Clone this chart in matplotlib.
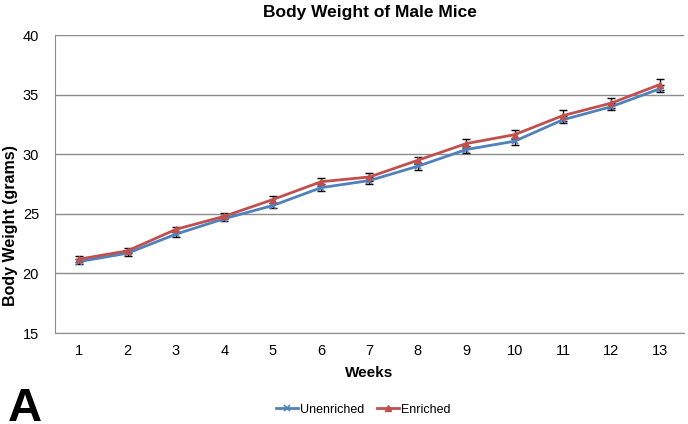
import matplotlib.pyplot as plt

plt.rcParams["font.family"] = ["Liberation Sans", "DejaVu Sans"]

weeks = ["1", "2", "3", "4", "5", "6", "7", "8", "9", "10", "11", "12", "13"]
unenriched = [21.0, 21.7, 23.3, 24.6, 25.7, 27.2, 27.8, 29.0, 30.4, 31.1, 32.9, 34.0, 35.5]
unenriched_err = [0.2, 0.2, 0.2, 0.2, 0.2, 0.3, 0.3, 0.3, 0.3, 0.3, 0.3, 0.3, 0.3]
enriched = [21.2, 21.9, 23.7, 24.8, 26.2, 27.7, 28.1, 29.5, 30.9, 31.65, 33.25, 34.3, 35.85]
enriched_err = [0.25, 0.2, 0.2, 0.25, 0.3, 0.35, 0.35, 0.3, 0.35, 0.4, 0.45, 0.45, 0.45]

fig = plt.figure(figsize=(6.88, 4.24), dpi=100)
ax = fig.add_axes([0.080, 0.2146, 0.914, 0.7024])

x = list(range(len(weeks)))
# error bars first, lines on top
ax.errorbar(x, unenriched, yerr=unenriched_err, fmt="none", ecolor="black",
            elinewidth=1, capsize=3, capthick=1, zorder=3)
ax.errorbar(x, enriched, yerr=enriched_err, fmt="none", ecolor="black",
            elinewidth=1, capsize=3, capthick=1, zorder=3)
ax.plot(x, unenriched, color="#4F81BD", lw=2, marker="x", ms=5, mew=1.2,
        label="Unenriched", zorder=4)
ax.plot(x, enriched, color="#C0504D", lw=2, marker="^", ms=4,
        label="Enriched", zorder=5)

ax.set_xlim(-0.5, len(weeks) - 0.5)
ax.set_ylim(15, 40)
ax.set_xticks(x)
ax.set_xticklabels(weeks)
ax.set_yticks([15, 20, 25, 30, 35, 40])
ax.tick_params(axis="both", length=0, labelsize=10.5, pad=8)
ax.tick_params(axis="y", pad=11.5)

ax.yaxis.grid(True, color="#8c8c8c", lw=1)
ax.set_axisbelow(True)
for s in ["top", "right"]:
    ax.spines[s].set_visible(False)
ax.spines["left"].set_color("#8c8c8c")
ax.spines["bottom"].set_color("#8c8c8c")

ax.set_title("Body Weight of Male Mice", fontsize=12.5, fontweight="bold", pad=13)
ax.set_xlabel("Weeks", fontsize=11, fontweight="bold", labelpad=6)
ax.set_ylabel("Body Weight (grams)", fontsize=11.5, fontweight="bold")
ax.yaxis.set_label_coords(-0.059, 0.36)

ax.legend(loc="upper center", bbox_to_anchor=(0.49, -0.2), ncol=2, frameon=False,
          fontsize=9, handlelength=1.75, handletextpad=0.15, columnspacing=1.0)

fig.text(0.012, 0.007, "A", fontsize=34, fontweight="bold", ha="left", va="baseline")

fig.savefig("out.png", dpi=100)
